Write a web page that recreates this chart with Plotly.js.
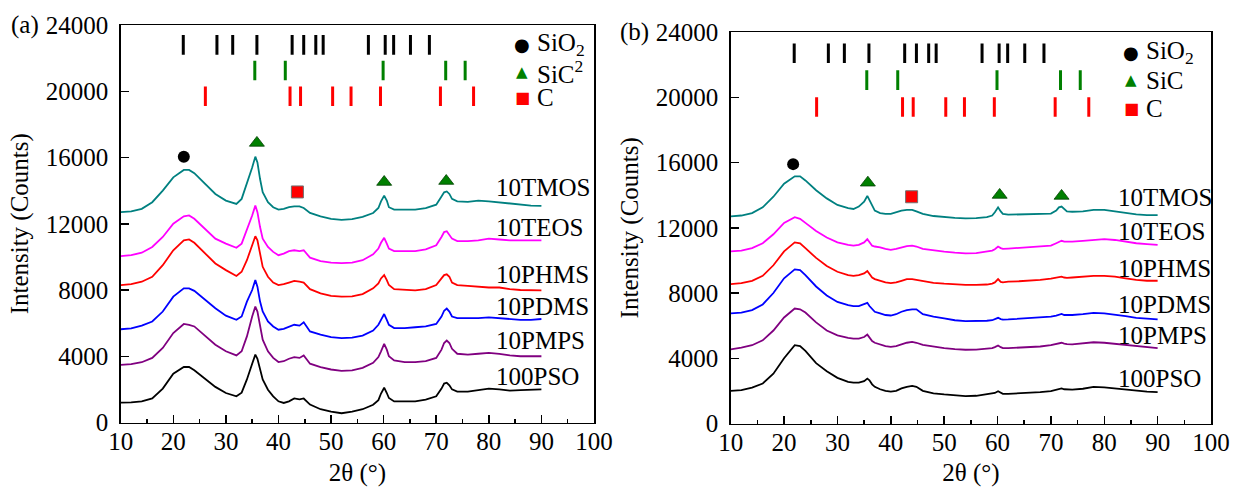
<!DOCTYPE html>
<html>
<head>
<meta charset="utf-8">
<script src="https://cdn.plot.ly/plotly-3.0.1.min.js"></script>
<style>html,body{margin:0;padding:0;background:#fff;}#chart{width:1234px;height:487px;}</style>
</head>
<body>
<div id="chart"></div>
<script>
// 2θ grid (degrees)
const twoTheta = [10,12,14,16,18,20,22,23,24,26,28,30,32,33,34,35,35.6,36,36.5,37,38,39,40,41,42,43,44,44.8,46,48,50,52,54,56,58,59,59.5,60.1,60.6,61,62,64,66,68,70,71,71.5,72,72.5,73,74,76,78,80,82,84,86,88,90];

const seriesNames = ["100PSO","10PMPS","10PDMS","10PHMS","10TEOS","10TMOS"];
const seriesColors = ["#000000","#800080","#0000ff","#ff0000","#ff00ff","#008080"];

// Panel (a) intensities (counts)
const pso_a  = [1200,1210,1280,1450,2050,2950,3350,3350,3150,2650, 2150,1780,1580,1800,2600,3550,4100,3850,3150,2600, 1980,1580,1280,1180,1280,1450,1400,1450,1080,800, 650,560,650,800,1070,1350,1750,2100,1780,1480, 1270,1260,1270,1380,1580,2050,2350,2400,2250,2000, 1870,1870,1950,2050,2000,1930,1950,1970,2000];
const pmps_a = [3480,3520,3640,3900,4500,5400,5950,5900,5800,5250, 4700,4300,4050,4300,5200,6400,7000,6700,5800,5000, 4300,3900,3650,3700,3850,3950,3900,4050,3550,3350, 3200,3120,3150,3300,3600,3950,4300,4750,4400,4000, 3750,3650,3650,3700,3900,4400,4800,4950,4800,4450, 4150,4100,4150,4200,4150,4050,4000,4000,4000];
const pdms_a = [5630,5680,5850,6100,6700,7600,8100,8100,7950,7400, 6900,6450,6200,6400,7300,8000,8600,8200,7300,6700, 6100,5800,5600,5650,5800,5900,5850,6050,5500,5300, 5150,5100,5120,5250,5550,5900,6200,6550,6200,5900, 5700,5700,5750,5800,5950,6400,6750,6880,6700,6400, 6300,6300,6300,6350,6300,6250,6200,6200,6250];
const phms_a = [8300,8350,8500,8800,9500,10400,11000,11050,10850,10200, 9600,9200,8850,9100,9800,10700,11250,11000,10100,9400, 8800,8450,8300,8350,8450,8550,8500,8450,8050,7800, 7650,7600,7620,7750,8100,8400,8700,8900,8600,8300, 8050,8000,7980,8050,8300,8700,8900,8950,8800,8450, 8300,8250,8200,8150,8150,8050,8000,7980,7980];
const teos_a = [10050,10100,10250,10600,11200,12000,12450,12500,12300,11700, 11100,10800,10550,10800,11600,12500,13100,12700,11800,11100, 10600,10300,10100,10200,10350,10400,10350,10400,9950,9750, 9650,9620,9650,9800,10150,10500,10850,11150,10800,10500, 10350,10330,10350,10450,10700,11200,11500,11550,11350,11100, 10950,10950,11000,11100,11050,11000,11000,11000,11000];
const tmos_a = [12700,12750,12900,13300,14000,14800,15250,15250,15050,14400, 13800,13400,13200,13500,14400,15400,16050,15700,14700,13900, 13300,13000,12850,12900,13000,13050,13050,12950,12650,12450, 12300,12230,12280,12420,12650,12950,13350,13700,13400,13000, 12850,12830,12850,12950,13150,13650,13900,13950,13800,13500, 13350,13320,13400,13350,13280,13220,13150,13100,13080];

// Panel (b) intensities (counts)
const pso_b  = [2000,2050,2200,2450,3050,4000,4800,4750,4450,3700, 3200,2800,2550,2500,2500,2600,2750,2650,2400,2250, 2100,2000,1950,2000,2150,2250,2300,2250,2000,1850, 1780,1720,1680,1700,1780,1820,1870,1980,1880,1820, 1820,1850,1870,1920,1980,2050,2100,2150,2100,2080, 2080,2130,2250,2220,2150,2050,1980,1950,1920];
const pmps_b = [4550,4650,4800,5100,5700,6500,7050,7000,6800,6200, 5700,5400,5250,5200,5200,5300,5450,5250,5050,4950, 4850,4750,4700,4750,4850,4950,5000,4950,4820,4700, 4620,4560,4520,4530,4580,4620,4680,4780,4680,4620, 4620,4650,4680,4720,4800,4880,4920,4950,4900,4860, 4850,4900,4980,4950,4880,4800,4720,4650,4620];
const pdms_b = [6750,6800,6950,7300,8000,8900,9450,9400,9100,8400, 7850,7450,7250,7200,7200,7300,7400,7200,7000,6850, 6750,6650,6620,6700,6850,6950,7000,7000,6700,6550, 6450,6330,6280,6270,6300,6330,6380,6480,6400,6370, 6380,6420,6450,6480,6550,6620,6680,6720,6650,6640, 6650,6700,6780,6750,6680,6580,6480,6420,6380];
const phms_b = [8550,8600,8750,9050,9700,10550,11100,11050,10750,10150, 9650,9300,9100,9050,9100,9200,9350,9150,8950,8850, 8750,8650,8600,8650,8750,8850,8850,8800,8700,8620, 8570,8530,8500,8500,8520,8580,8650,8850,8680,8650, 8700,8720,8750,8800,8880,8950,8980,9000,8950,8930, 8950,9000,9050,9050,9000,8900,8800,8750,8750];
const teos_b = [10550,10600,10750,11050,11600,12300,12650,12550,12300,11800, 11400,11100,10950,10900,10950,11100,11300,11100,10900,10850, 10800,10700,10650,10700,10800,10880,10900,10850,10700,10600, 10530,10470,10430,10450,10520,10600,10680,10850,10750,10700, 10720,10760,10800,10850,10900,11050,11150,11200,11150,11150, 11150,11200,11250,11300,11250,11150,11050,11000,10950];
const tmos_b = [12700,12750,12900,13250,13900,14700,15150,15150,14900,14300, 13800,13400,13200,13150,13300,13600,13950,13700,13300,13050, 12900,12850,12850,12950,13050,13100,13100,13000,12850,12720, 12640,12600,12580,12590,12650,12750,12950,13250,13000,12850, 12800,12820,12830,12850,12870,13050,13250,13300,13150,13000, 12980,13000,13100,13100,13000,12900,12820,12780,12780];

// Reference (standard) peak positions, 2θ
const sio2Ref = [21.9,28.3,31.3,35.9,42.6,44.8,47.1,48.5,57.1,60.3,61.9,65.1,68.7];
const sicRef  = [35.5,41.3,59.9,71.8,75.5];
const cRef    = [26.1,42.2,44.2,50.3,53.8,59.4,70.8,77.1];
// Stick row levels (counts) for SiO2, SiC, C
const stickLevels_a = [22800,21250,19700];
const stickLevels_b = [22700,21050,19400];

// Phase identification markers
const sio2Mark_a = {x:[22.0], y:[16050]};
const sicMark_a  = {x:[35.9,60.1,71.9], y:[16880,14520,14580]};
const cMark_a    = {x:[43.6], y:[13920]};
const sio2Mark_b = {x:[21.7], y:[15900]};
const sicMark_b  = {x:[35.7,60.4,72.0], y:[14760,14010,13950]};
const cMark_b    = {x:[43.9], y:[13900]};

const panelA = [pso_a,pmps_a,pdms_a,phms_a,teos_a,tmos_a];
const panelB = [pso_b,pmps_b,pdms_b,phms_b,teos_b,tmos_b];

const traces = [];
function addPanel(vals, xa, ya, levels, sio2M, sicM, cM){
  vals.forEach((v,i)=>{
    traces.push({type:'scatter',mode:'lines',x:twoTheta,y:v,xaxis:xa,yaxis:ya,
      name:seriesNames[i],line:{color:seriesColors[i],width:1.8},showlegend:false});
  });
  const sticks = [[sio2Ref,'#000000'],[sicRef,'#008000'],[cRef,'#ff0000']];
  sticks.forEach((s,k)=>{
    traces.push({type:'scatter',mode:'markers',x:s[0],y:s[0].map(()=>levels[k]),xaxis:xa,yaxis:ya,
      marker:{symbol:'line-ns-open',size:14,color:s[1],line:{width:3,color:s[1]}},showlegend:false});
  });
  traces.push({type:'scatter',mode:'markers',x:sio2M.x,y:sio2M.y,xaxis:xa,yaxis:ya,
    marker:{symbol:'circle',size:12,color:'#000000'},showlegend:false});
  traces.push({type:'scatter',mode:'markers',x:sicM.x,y:sicM.y,xaxis:xa,yaxis:ya,
    marker:{symbol:'triangle-up',size:13,color:'#008000',line:{width:0.8,color:'#004000'}},showlegend:false});
  traces.push({type:'scatter',mode:'markers',x:cM.x,y:cM.y,xaxis:xa,yaxis:ya,
    marker:{symbol:'square',size:12,color:'#ff0000',line:{width:1,color:'#707070'}},showlegend:false});
}
addPanel(panelA,'x','y',stickLevels_a,sio2Mark_a,sicMark_a,cMark_a);
addPanel(panelB,'x2','y2',stickLevels_b,sio2Mark_b,sicMark_b,cMark_b);

const FONT = 'Liberation Serif, Times New Roman, serif';
function xax(domain, anchor){
  return {domain:domain, anchor:anchor, range:[10,100], tick0:10, dtick:10, ticks:'inside', ticklen:8, tickwidth:1.5,
    tickcolor:'#000', minor:{ticks:'inside', dtick:5, tick0:10, ticklen:4, tickwidth:1.5, tickcolor:'#000'},
    showline:true, mirror:true, linecolor:'#000', linewidth:1.5, showgrid:false, zeroline:false,
    tickfont:{family:FONT,size:25,color:'#000'}, ticklabelstandoff:-4,
    title:{text:'2θ (°)', font:{family:FONT,size:25,color:'#000'}, standoff:12}, automargin:false};
}
function yax(domain, anchor){
  return {domain:domain, anchor:anchor, range:[0,24000], tick0:0, dtick:4000, tickformat:'d', ticks:'inside', ticklen:8, tickwidth:1.5,
    tickcolor:'#000', showline:true, mirror:true, linecolor:'#000', linewidth:1.5, showgrid:false, zeroline:false,
    tickfont:{family:FONT,size:25,color:'#000'}, ticklabelstandoff:6,
    title:{text:'Intensity (Counts)', font:{family:FONT,size:25,color:'#000'}, standoff:10}, automargin:false};
}

const W = 1234, H = 487;
const px = v => v / W, py = v => 1 - v / H;

const annotations = [];
// panel letters
annotations.push({xref:'paper',yref:'paper',x:px(9),y:py(25),xanchor:'left',yanchor:'middle',text:'(a)',showarrow:false,font:{family:FONT,size:25,color:'#000'}});
annotations.push({xref:'paper',yref:'paper',x:px(618),y:py(32),xanchor:'left',yanchor:'middle',text:'(b)',showarrow:false,font:{family:FONT,size:25,color:'#000'}});

// series labels
const labelY_a = [376,340,306,274,227,187];
const labelY_b = [378,335,304,268,231,198];
seriesNames.forEach((n,i)=>{
  annotations.push({xref:'paper',yref:'paper',x:px(494),y:py(labelY_a[i]),xanchor:'left',yanchor:'middle',text:n,showarrow:false,font:{family:FONT,size:25,color:'#000'}});
  annotations.push({xref:'paper',yref:'paper',x:px(1116),y:py(labelY_b[i]),xanchor:'left',yanchor:'middle',text:n,showarrow:false,font:{family:FONT,size:25,color:'#000'}});
});

// legends
function legend(xs, ys, sicText){
  const items = [['●','#000000',18,'SiO<sub>2</sub>'],['▲','#008000',15,sicText],['■','#ff0000',16,'C']];
  items.forEach((it,k)=>{
    annotations.push({xref:'paper',yref:'paper',x:px(xs),y:py(ys[k]),xanchor:'center',yanchor:'middle',text:it[0],showarrow:false,
      font:{family:'DejaVu Sans',size:it[2],color:it[1]}});
    annotations.push({xref:'paper',yref:'paper',x:px(xs+13),y:py(ys[k]),xanchor:'left',yanchor:'middle',text:it[3],showarrow:false,
      font:{family:FONT,size:25,color:'#000'}});
  });
}
legend(522,[45,72,97],'SiC<sup>2</sup>');
legend(1131,[52,80,109],'SiC');

const layout = {
  width:W, height:H, margin:{l:0,r:0,t:0,b:0}, paper_bgcolor:'#fff', plot_bgcolor:'#fff',
  showlegend:false, font:{family:FONT,color:'#000'},
  xaxis: xax([120.7/W, 594/W], 'y'),
  yaxis: yax([1-422.5/H, 1-25/H], 'x'),
  xaxis2: xax([730.7/W, 1211/W], 'y2'),
  yaxis2: yax([1-423.5/H, 1-32/H], 'x2'),
  annotations: annotations
};
Plotly.newPlot('chart', traces, layout, {staticPlot:true});
</script>
</body>
</html>
